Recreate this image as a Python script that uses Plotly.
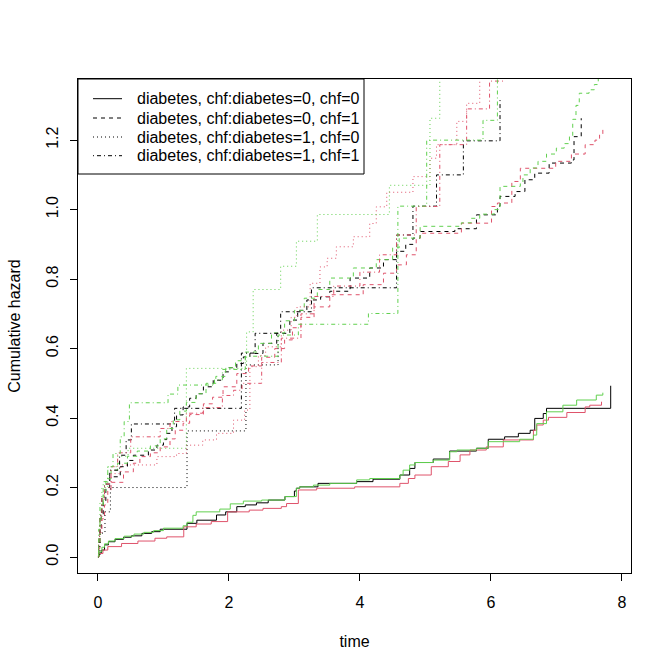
import plotly.graph_objects as go

# ---- data: cumulative hazard step curves (time, value after jump) ----
# solid: diabetes=0, chf=0
t_s_black = [0, 0.02, 0.056, 0.1, 0.16, 0.26, 0.39, 0.51, 0.67, 0.82, 0.95, 1.36, 1.51, 1.81, 1.95, 2.12, 2.25, 2.42, 2.6, 2.855, 3.0, 3.03, 3.08, 3.36, 3.95, 4.2, 4.61, 4.76, 4.84, 5.12, 5.37, 5.78, 5.96, 6.21, 6.42, 6.6, 6.67, 6.8, 6.85, 7.83]
h_s_black = [0.003, 0.012, 0.02, 0.035, 0.044, 0.051, 0.057, 0.061, 0.068, 0.073, 0.08, 0.097, 0.106, 0.121, 0.13, 0.145, 0.15, 0.156, 0.164, 0.174, 0.19, 0.198, 0.202, 0.212, 0.217, 0.224, 0.236, 0.255, 0.272, 0.282, 0.305, 0.313, 0.339, 0.346, 0.356, 0.365, 0.399, 0.413, 0.428, 0.493]
t_s_red = [0, 0.02, 0.076, 0.15, 0.36, 0.61, 0.87, 1.05, 1.31, 1.5, 1.73, 1.98, 2.31, 2.52, 2.8, 2.88, 3.06, 3.34, 3.92, 4.61, 4.74, 4.84, 5.09, 5.35, 5.53, 5.68, 5.93, 6.19, 6.65, 6.7, 6.8, 6.88, 7.16, 7.44, 7.51, 7.69]
h_s_red = [0.002, 0.01, 0.02, 0.03, 0.039, 0.046, 0.054, 0.058, 0.087, 0.095, 0.102, 0.13, 0.135, 0.14, 0.145, 0.154, 0.193, 0.198, 0.202, 0.212, 0.226, 0.236, 0.26, 0.275, 0.294, 0.308, 0.317, 0.337, 0.365, 0.38, 0.394, 0.402, 0.416, 0.432, 0.437, 0.447]
t_s_green = [0, 0.02, 0.06, 0.1, 0.16, 0.26, 0.4, 0.55, 0.7, 0.85, 1.0, 1.3, 1.36, 1.45, 1.5, 1.86, 2.02, 2.22, 2.5, 2.855, 3.03, 3.08, 3.29, 3.54, 3.95, 4.15, 4.61, 4.66, 4.76, 4.84, 5.12, 5.37, 5.48, 5.78, 5.96, 6.44, 6.65, 6.7, 6.85, 7.1, 7.31, 7.61, 7.71]
h_s_green = [0.003, 0.015, 0.028, 0.038, 0.046, 0.053, 0.06, 0.066, 0.071, 0.076, 0.083, 0.09, 0.1, 0.12, 0.13, 0.138, 0.153, 0.161, 0.164, 0.174, 0.198, 0.202, 0.207, 0.212, 0.222, 0.226, 0.236, 0.25, 0.265, 0.272, 0.279, 0.303, 0.308, 0.313, 0.332, 0.339, 0.351, 0.384, 0.418, 0.437, 0.452, 0.466, 0.473]

# dashed: diabetes=0, chf=1
t_d_black = [0, 0.01, 0.03, 0.05, 0.08, 0.12, 0.18, 0.34, 0.45, 0.54, 0.77, 0.9, 1.0, 1.05, 1.13, 1.2, 1.3, 1.4, 1.5, 1.61, 1.76, 1.91, 2.0, 2.12, 2.22, 2.32, 2.52, 2.73, 2.93, 3.05, 3.19, 3.4, 3.54, 3.85, 4.15, 4.36, 4.56, 4.7, 4.81, 4.92, 5.45, 5.78, 6.1, 6.14, 6.37, 6.52, 6.67, 6.89, 7.23, 7.27, 7.38]
h_d_black = [0, 0.03, 0.08, 0.12, 0.16, 0.2, 0.231, 0.26, 0.278, 0.293, 0.308, 0.322, 0.338, 0.356, 0.375, 0.409, 0.432, 0.457, 0.47, 0.49, 0.509, 0.533, 0.545, 0.557, 0.576, 0.586, 0.615, 0.644, 0.682, 0.71, 0.74, 0.749, 0.765, 0.803, 0.832, 0.856, 0.88, 0.9, 0.918, 0.937, 0.945, 0.985, 1.01, 1.038, 1.052, 1.086, 1.105, 1.134, 1.143, 1.21, 1.263]
t_d_red = [0, 0.01, 0.03, 0.06, 0.1, 0.15, 0.2, 0.39, 0.54, 0.64, 0.8, 0.95, 1.1, 1.18, 1.3, 1.4, 1.61, 1.75, 1.91, 2.12, 2.3, 2.5, 2.7, 2.85, 2.97, 3.1, 3.3, 3.54, 4.05, 4.36, 4.56, 4.71, 4.86, 4.92, 5.55, 6.01, 6.1, 6.32, 6.45, 6.99, 7.23, 7.44, 7.59, 7.66, 7.71]
h_d_red = [0, 0.025, 0.07, 0.11, 0.15, 0.19, 0.215, 0.245, 0.27, 0.289, 0.3, 0.317, 0.34, 0.365, 0.385, 0.41, 0.441, 0.46, 0.49, 0.528, 0.55, 0.575, 0.6, 0.625, 0.66, 0.69, 0.72, 0.755, 0.784, 0.817, 0.841, 0.87, 0.918, 0.932, 0.961, 1.009, 1.019, 1.081, 1.119, 1.139, 1.16, 1.187, 1.2, 1.215, 1.235]
t_d_green = [0, 0.01, 0.03, 0.05, 0.08, 0.12, 0.2, 0.3, 0.45, 0.6, 0.8, 0.95, 1.05, 1.15, 1.25, 1.35, 1.5, 1.65, 1.8, 1.95, 2.1, 2.25, 2.45, 2.65, 2.85, 3.0, 3.15, 3.35, 3.54, 3.9, 4.25, 4.5, 4.6, 4.92, 5.55, 5.7, 5.83, 6.05, 6.14, 6.45, 6.49, 6.6, 6.72, 6.85, 7.0, 7.12, 7.2, 7.25, 7.3, 7.35, 7.5, 7.58, 7.64, 7.7, 7.72]
h_d_green = [0, 0.04, 0.1, 0.15, 0.19, 0.225, 0.25, 0.27, 0.29, 0.305, 0.32, 0.34, 0.37, 0.395, 0.42, 0.445, 0.47, 0.5, 0.52, 0.545, 0.565, 0.59, 0.615, 0.645, 0.68, 0.71, 0.745, 0.77, 0.803, 0.832, 0.856, 0.89, 0.918, 0.952, 0.962, 0.975, 0.987, 1.0, 1.067, 1.075, 1.1, 1.12, 1.139, 1.16, 1.177, 1.19, 1.21, 1.26, 1.3, 1.335, 1.345, 1.36, 1.38, 1.4, 1.4]

# dotted: diabetes=1, chf=0
t_o_black = [0, 0.03, 0.107, 0.19, 1.36, 2.26, 2.75]
h_o_black = [0, 0.069, 0.13, 0.2, 0.363, 0.553, 0.644]
t_o_red = [0, 0.01, 0.03, 0.06, 0.1, 0.2, 0.35, 0.9, 1.2, 1.35, 1.6, 1.81, 2.07, 2.24, 2.32, 2.45, 2.56, 2.8, 2.95, 3.04, 3.24, 3.39, 3.5, 3.64, 3.9, 4.15, 4.25, 4.41, 4.81, 5.07, 5.17, 5.48, 5.63, 5.83, 5.9]
h_o_red = [0, 0.05, 0.1, 0.16, 0.2, 0.24, 0.265, 0.289, 0.298, 0.322, 0.337, 0.356, 0.394, 0.423, 0.548, 0.58, 0.605, 0.653, 0.69, 0.72, 0.788, 0.835, 0.86, 0.893, 0.922, 0.96, 1.008, 1.05, 1.095, 1.148, 1.187, 1.254, 1.306, 1.4, 1.4]
t_o_green = [0, 0.01, 0.03, 0.06, 0.15, 0.3, 0.46, 1.35, 2.27, 2.37, 2.79, 3.03, 3.35, 4.45, 5.07, 5.22, 5.4]
h_o_green = [0, 0.05, 0.12, 0.2, 0.26, 0.29, 0.313, 0.543, 0.648, 0.77, 0.837, 0.909, 0.986, 1.07, 1.263, 1.45, 1.45]

# dot-dash: diabetes=1, chf=1
t_dd_black = [0, 0.01, 0.03, 0.06, 0.1, 0.18, 0.33, 0.43, 0.51, 1.17, 2.19, 2.4, 2.79, 3.26, 4.56, 4.81, 5.17, 5.58, 6.14]
h_dd_black = [0, 0.06, 0.12, 0.17, 0.21, 0.25, 0.293, 0.337, 0.383, 0.428, 0.587, 0.644, 0.706, 0.775, 0.927, 1.01, 1.1, 1.198, 1.32]
t_dd_red = [0, 0.01, 0.03, 0.06, 0.1, 0.2, 0.3, 0.5, 0.95, 1.1, 1.35, 1.6, 1.9, 2.07, 2.2, 2.5, 2.8, 3.1, 3.3, 3.6, 4.0, 4.3, 4.56, 4.86, 5.22, 5.63, 5.98, 6.2]
h_dd_red = [0, 0.06, 0.12, 0.17, 0.21, 0.26, 0.3, 0.346, 0.37, 0.39, 0.414, 0.43, 0.465, 0.48, 0.5, 0.56, 0.63, 0.7, 0.75, 0.78, 0.82, 0.87, 0.927, 1.009, 1.187, 1.29, 1.37, 1.45]
t_dd_green = [0, 0.01, 0.03, 0.08, 0.15, 0.23, 0.34, 0.4, 0.48, 1.07, 1.22, 1.78, 1.9, 2.25, 2.75, 3.06, 4.13, 4.58, 5.02, 5.88, 6.1, 6.15]
h_dd_green = [0, 0.08, 0.155, 0.217, 0.26, 0.298, 0.346, 0.39, 0.444, 0.469, 0.495, 0.51, 0.54, 0.578, 0.639, 0.67, 0.701, 1.01, 1.2, 1.257, 1.45, 1.45]

legend_labels = [
    "diabetes, chf:diabetes=0, chf=0",
    "diabetes, chf:diabetes=0, chf=1",
    "diabetes, chf:diabetes=1, chf=0",
    "diabetes, chf:diabetes=1, chf=1",
]
x_ticks = [0, 2, 4, 6, 8]
y_ticks = [0.0, 0.2, 0.4, 0.6, 0.8, 1.0, 1.2]

BLACK, RED, GREEN = "#000000", "#DF536B", "#61D04F"
DASHES = ["solid", "4px,4px", "1px,3px", "1px,3px,4px,3px"]

groups = [
    [(t_s_black, h_s_black, BLACK), (t_s_red, h_s_red, RED), (t_s_green, h_s_green, GREEN)],
    [(t_d_black, h_d_black, BLACK), (t_d_red, h_d_red, RED), (t_d_green, h_d_green, GREEN)],
    [(t_o_black, h_o_black, BLACK), (t_o_red, h_o_red, RED), (t_o_green, h_o_green, GREEN)],
    [(t_dd_black, h_dd_black, BLACK), (t_dd_red, h_dd_red, RED), (t_dd_green, h_dd_green, GREEN)],
]

fig = go.Figure()
for gi, grp in enumerate(groups):
    for ci, (tt, hh, col) in enumerate(grp):
        fig.add_trace(go.Scatter(
            x=tt, y=hh, mode="lines",
            line=dict(color=col, width=1, dash=DASHES[gi], shape="hv"),
            name=legend_labels[gi], showlegend=False,
            hoverinfo="skip",
        ))

# ---- legend drawn in the top-left corner of the plot box (R-style) ----
PLOT_L, PLOT_R, PLOT_T, PLOT_B = 78, 631, 79, 573
def px_x(p):
    return (p - PLOT_L) / (PLOT_R - PLOT_L)
def px_y(p):
    return (PLOT_B - p) / (PLOT_B - PLOT_T)

shapes = [dict(type="rect", xref="paper", yref="paper",
               x0=px_x(78), x1=px_x(364), y0=px_y(174), y1=px_y(79),
               line=dict(color="black", width=1), fillcolor="white", layer="above")]
annotations = []
row_y = [98.7, 118, 137, 155.7]
for i, lab in enumerate(legend_labels):
    shapes.append(dict(type="line", xref="paper", yref="paper",
                       x0=px_x(93), x1=px_x(122), y0=px_y(row_y[i]), y1=px_y(row_y[i]),
                       line=dict(color="black", width=1, dash=DASHES[i]), layer="above"))
    annotations.append(dict(xref="paper", yref="paper", x=px_x(135), y=px_y(row_y[i]),
                            text=lab, showarrow=False, xanchor="left", yanchor="middle",
                            font=dict(size=16, color="black")))

FONT = "Liberation Sans, Arial, Helvetica, sans-serif"
fig.update_layout(
    width=672, height=672,
    margin=dict(l=78, r=41, t=79, b=99),
    paper_bgcolor="white", plot_bgcolor="white",
    font=dict(family=FONT, size=16, color="black"),
    showlegend=False,
    shapes=shapes,
    annotations=annotations,
    xaxis=dict(
        range=[-0.305, 8.14], tickvals=x_ticks, ticktext=[str(v) for v in x_ticks],
        showgrid=False, zeroline=False, showline=True, mirror=True,
        linecolor="black", linewidth=1, ticks="outside", ticklen=7, tickcolor="black",
        ticklabelstandoff=8,
        title=dict(text="time", standoff=25, font=dict(size=16)),
    ),
    yaxis=dict(
        range=[-0.046, 1.376], tickvals=y_ticks, ticktext=[f"{v:.1f}" for v in y_ticks],
        tickangle=-90,
        showgrid=False, zeroline=False, showline=True, mirror=True,
        linecolor="black", linewidth=1, ticks="outside", ticklen=7, tickcolor="black",
        ticklabelstandoff=6,
        title=dict(text="Cumulative hazard", standoff=18, font=dict(size=16)),
    ),
)

fig.write_html("out.html")
